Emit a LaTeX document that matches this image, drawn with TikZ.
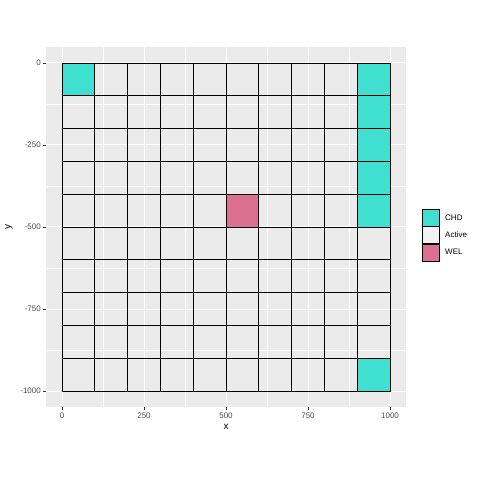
\documentclass[tikz,border=0pt]{standalone}
\usepackage{fontspec}
\setmainfont{Liberation Sans}
\usepackage{xcolor}
\usetikzlibrary{positioning}
\definecolor{panelgray}{RGB}{235,235,235}
\definecolor{keygray}{RGB}{242,242,242}
\definecolor{chdcolor}{RGB}{64,224,208}
\definecolor{welcolor}{RGB}{219,112,147}
\definecolor{ticktext}{RGB}{77,77,77}
\definecolor{tickline}{RGB}{51,51,51}

\begin{document}
\begin{tikzpicture}[
    x=1pt, y=1pt,
    major/.style={white, line width=1pt},
    minor/.style={white, line width=0.5pt},
    cell/.style={draw=black, line width=0.9pt},
    chd/.style={cell, fill=chdcolor},
    wel/.style={cell, fill=welcolor},
    active/.style={cell},
    tick/.style={tickline, line width=0.6pt},
    ticklabel/.style={font=\fontsize{8}{9}\selectfont, text=ticktext, inner sep=0pt},
    axistitle/.style={font=\fontsize{10}{11}\selectfont, inner sep=0pt},
    legkey/.style={draw=black, line width=0.8pt, minimum width=17pt, minimum height=17pt, inner sep=0pt},
    leglabel/.style={font=\fontsize{8}{9}\selectfont, inner sep=0pt, anchor=west}
]
\useasboundingbox (0,0) rectangle (480,480);
\fill[white] (0,0) rectangle (480,480);

% Panel in data coordinates
\begin{scope}[shift={(62,417)}, x=0.328pt, y=0.328pt]
  \fill[panelgray] (-50,-1050) rectangle (1050,50);
  % minor grid
  \foreach \v in {125,375,625,875} {
    \draw[minor] (\v,-1050) -- (\v,50);
    \draw[minor] (-50,-\v) -- (1050,-\v);
  }
  % major grid
  \foreach \v in {0,250,500,750,1000} {
    \draw[major] (\v,-1050) -- (\v,50);
    \draw[major] (-50,-\v) -- (1050,-\v);
  }
  % Active cells
  \foreach \i in {0,...,9} {
    \foreach \j in {0,...,9} {
      \draw[active] (100*\i,-100*\j) rectangle (100*\i+100,-100*\j-100);
    }
  }
  % CHD cells
  \draw[chd] (0,0) rectangle (100,-100);
  \foreach \j in {0,...,4} {
    \draw[chd] (900,-100*\j) rectangle (1000,-100*\j-100);
  }
  \draw[chd] (900,-900) rectangle (1000,-1000);
  % WEL cell
  \draw[wel] (500,-400) rectangle (600,-500);

  % Axis ticks and labels
  \foreach \v in {0,250,500,750,1000} {
    \draw[tick] (\v,-1050) -- ++(0,-8.4);
    \node[ticklabel, anchor=north] (xt\v) at (\v,-1067) {\v};
  }
  \foreach \v/\t in {0/0,250/-250,500/-500,750/-750,1000/-1000} {
    \draw[tick] (-50,-\v) -- ++(-8.4,0);
    \node[ticklabel, anchor=east] (yt\v) at (-64,-\v) {\t};
  }
\end{scope}

% Axis titles
\node[axistitle] (xtitle) at (226,53) {x};
\node[axistitle, rotate=90] (ytitle) at (9,253) {y};

% Legend
\node[legkey, fill=chdcolor] (kchd) at (430.5,262.5) {};
\node[legkey, fill=keygray, below=0pt of kchd] (kactive) {};
\node[legkey, fill=welcolor, below=0pt of kactive] (kwel) {};
\node[leglabel] (lchd) at (445,262.5) {CHD};
\node[leglabel] (lactive) at (445,245.5) {Active};
\node[leglabel] (lwel) at (445,228.5) {WEL};
\end{tikzpicture}
\end{document}
